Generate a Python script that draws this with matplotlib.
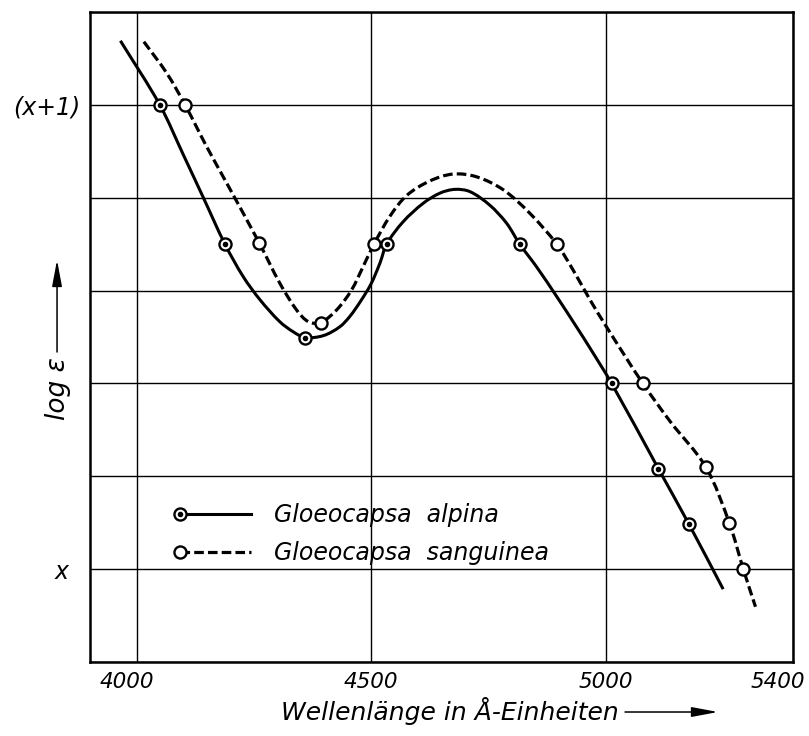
import numpy as np
import matplotlib
matplotlib.use("Agg")
import matplotlib.pyplot as plt
from matplotlib.lines import Line2D
from matplotlib.legend_handler import HandlerBase
from matplotlib.path import Path
from matplotlib.patches import PathPatch
import matplotlib.transforms as mtransforms

plt.rcParams['font.family'] = ['DejaVu Sans']
plt.rcParams['font.style'] = 'italic'

# ---------------- data ----------------
# measured points
alpina_wl = [4049, 4189, 4359, 4533, 4817, 5013, 5113, 5178]
alpina_v = [1.0, 0.70, 0.498, 0.70, 0.70, 0.40, 0.216, 0.097]
sanguinea_wl = [4103, 4261, 4392, 4506, 4896, 5079, 5214, 5264, 5294]
sanguinea_v = [1.0, 0.703, 0.531, 0.70, 0.70, 0.401, 0.22, 0.10, 0.0]

# traced drawn curves
alpina_curve_wl = [3965, 4049, 4099, 4142, 4188, 4227, 4263, 4305, 4334, 4359,
                   4398, 4433, 4455, 4478, 4500, 4519, 4533, 4568, 4611, 4647, 4679,
                   4711, 4753, 4789, 4817, 4853, 4896, 4938, 4967, 5013, 5113,
                   5178, 5251]
alpina_curve_v = [1.138, 1.0, 0.893, 0.800, 0.70, 0.630, 0.580, 0.533, 0.511, 0.499,
                  0.503, 0.522, 0.545, 0.578, 0.615, 0.660, 0.70, 0.748, 0.788, 0.810, 0.818,
                  0.813, 0.784, 0.745, 0.70, 0.651, 0.587, 0.522, 0.476, 0.40, 0.216,
                  0.097, -0.043]
sanguinea_curve_wl = [4015, 4064, 4103, 4149, 4192, 4261, 4305, 4341, 4366, 4392,
                      4426, 4458, 4483, 4506, 4540, 4576, 4625, 4675, 4725,
                      4782, 4839, 4896, 4931, 4967, 5002, 5079, 5138, 5214, 5264,
                      5294, 5320]
sanguinea_curve_v = [1.136, 1.068, 1.0, 0.910, 0.831, 0.703, 0.616, 0.558, 0.533, 0.531,
                     0.558, 0.601, 0.652, 0.70, 0.760, 0.805, 0.836, 0.851, 0.845,
                     0.817, 0.766, 0.70, 0.644, 0.580, 0.522, 0.401, 0.318, 0.22, 0.10,
                     0.0, -0.081]

xtick_values = [4000, 4500, 5000, 5400]
xtick_labels = ['4000', '4500', '5000', '5400']
ytick_values = [-0.2, 0.0, 0.2, 0.4, 0.6, 0.8, 1.0, 1.2]
ytick_labels = ['', 'x', '', '', '', '', '(x+1)', '']
series_names = ['Gloeocapsa  alpina', 'Gloeocapsa  sanguinea']
xlabel_text = 'Wellenlänge in Å-Einheiten'
ylabel_text = 'log ε'

# ---------------- figure ----------------
fig = plt.figure(figsize=(8.09, 7.36), dpi=100)
ax = fig.add_axes([0.1112, 0.1005, 0.869, 0.8832])
ax.set_xlim(3900, 5400)
ax.set_ylim(-0.2, 1.2)

ax.set_xticks(xtick_values)
ax.set_xticklabels(xtick_labels)
ax.set_yticks(ytick_values)
ax.set_yticklabels(ytick_labels)
ax.grid(True, color='black', lw=1.0)
ax.set_axisbelow(True)
ax.tick_params(length=0)
ax.tick_params(axis='x', pad=7, labelsize=15.5)
ax.tick_params(axis='y', pad=7, labelsize=17)
for sp in ax.spines.values():
    sp.set_linewidth(1.8)


def smooth_curve_path(xs, ys):
    """Smooth Bezier path through the traced points (chord-length Catmull-Rom)."""
    P = np.column_stack([xs, ys]).astype(float)
    D = ax.transData.transform(P)          # lengths measured on screen
    n = len(P)
    seg = np.hypot(*np.diff(D, axis=0).T)
    t = np.concatenate([[0], np.cumsum(seg)])
    M = np.zeros_like(P)
    M[0] = (P[1] - P[0]) / (t[1] - t[0])
    M[-1] = (P[-1] - P[-2]) / (t[-1] - t[-2])
    for i in range(1, n - 1):
        M[i] = (P[i + 1] - P[i - 1]) / (t[i + 1] - t[i - 1])
    verts = [P[0]]
    codes = [Path.MOVETO]
    for i in range(n - 1):
        h = t[i + 1] - t[i]
        verts += [P[i] + M[i] * h / 3, P[i + 1] - M[i + 1] * h / 3, P[i + 1]]
        codes += [Path.CURVE4] * 3
    return Path(verts, codes)


ax.add_patch(PathPatch(smooth_curve_path(alpina_curve_wl, alpina_curve_v),
                       fill=False, edgecolor='black', lw=2.2, capstyle='butt',
                       joinstyle='round', zorder=3))
ax.add_patch(PathPatch(smooth_curve_path(sanguinea_curve_wl, sanguinea_curve_v),
                       fill=False, edgecolor='black', lw=2.3, ls=(0, (3.0, 1.3)),
                       capstyle='butt', joinstyle='round', zorder=3))

# markers
mk_ring = dict(marker='o', ms=8.7, mfc='white', mec='black', mew=1.7)
mk_dot = dict(marker='o', ms=4.0, mfc='black', mec='black', mew=0)
ax.plot(alpina_wl, alpina_v, ls='None', zorder=4, **mk_ring)
ax.plot(alpina_wl, alpina_v, ls='None', zorder=5, **mk_dot)
ax.plot(sanguinea_wl, sanguinea_v, ls='None', zorder=4, **mk_ring)


# legend with marker at left end of line sample
class LeftMarkerHandler(HandlerBase):
    def create_artists(self, legend, orig_handle, xdescent, ydescent,
                       width, height, fontsize, trans):
        y = height / 2 - ydescent
        x0, x1 = -xdescent, width - xdescent
        main = orig_handle[0]
        ln = Line2D([x0, x1], [y, y])
        ln.update_from(main)
        ln.set_marker('None')
        arts = [ln]
        for h in orig_handle:
            m = Line2D([x0], [y])
            m.update_from(h)
            m.set_linestyle('None')
            arts.append(m)
        for a in arts:
            a.set_transform(trans)
        return arts


h1 = (Line2D([], [], color='black', lw=2.2, **mk_ring),
      Line2D([], [], ls='None', **mk_dot))
h2 = (Line2D([], [], color='black', lw=2.3, ls=(0, (3.0, 1.3)), **mk_ring),)
leg = ax.legend([h1, h2], series_names, handler_map={tuple: LeftMarkerHandler()},
                loc='center left', bbox_to_anchor=(0.128, 0.197),
                frameon=False, fontsize=17, handlelength=3.0, handletextpad=1.0,
                labelspacing=0.58, borderpad=0, borderaxespad=0)


def shift(label, dx_px, dy_px=0):
    label.set_transform(label.get_transform() +
                        mtransforms.ScaledTranslation(dx_px / 100, dy_px / 100, fig.dpi_scale_trans))


xl = ax.get_xticklabels()
shift(xl[0], -10)
shift(xl[3], -15)
yl = ax.get_yticklabels()
shift(yl[1], -12)

# axis titles with arrows
arrow_props = dict(arrowstyle='-|>,head_length=1.6,head_width=0.3',
                   mutation_scale=10, color='black', lw=1.1, shrinkA=0, shrinkB=0)
fig.text(0.556, 0.0217, xlabel_text, ha='center', va='baseline', fontsize=18)
ax.annotate('', xy=(0.8875, 0.0326), xytext=(0.7726, 0.0326), xycoords='figure fraction',
            textcoords='figure fraction', arrowprops=arrow_props, annotation_clip=False)
fig.text(0.0717, 0.4715, ylabel_text, rotation=90, ha='center', va='center', fontsize=19)
ax.annotate('', xy=(0.0705, 0.6467), xytext=(0.0705, 0.5217), xycoords='figure fraction',
            textcoords='figure fraction', arrowprops=arrow_props, annotation_clip=False)

fig.savefig('out.png', dpi=100)
